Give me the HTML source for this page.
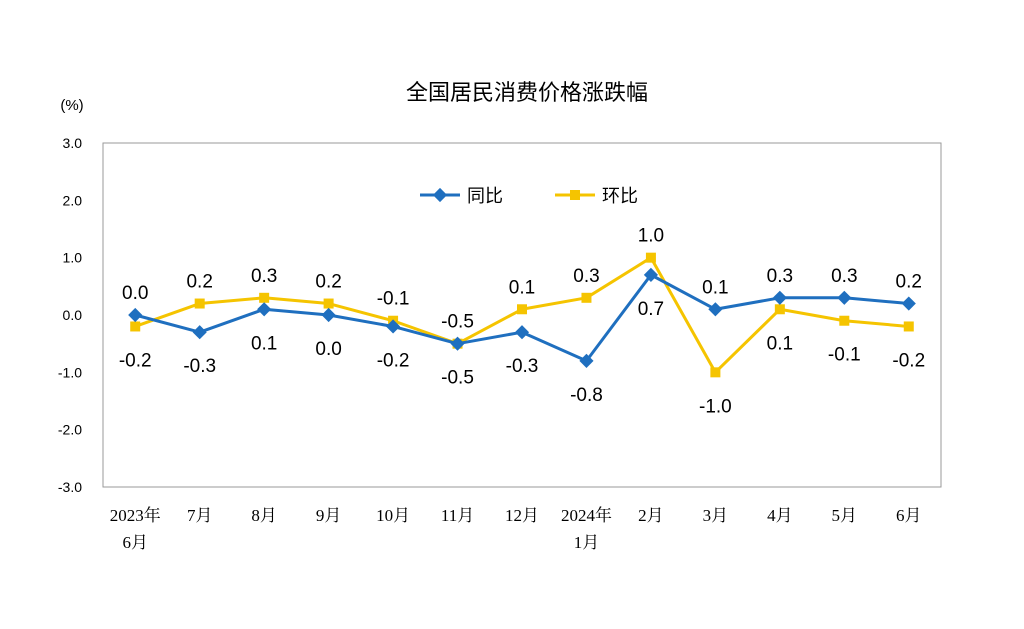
<!DOCTYPE html>
<html><head><meta charset="utf-8"><style>
body{margin:0;background:#fff;}
svg text{font-family:"Liberation Sans","Noto Sans CJK SC",sans-serif;}
</style></head><body>
<svg id="chart" width="1024" height="624" viewBox="0 0 1024 624" xmlns="http://www.w3.org/2000/svg">
<rect width="1024" height="624" fill="#fff"/>
<text x="527" y="100" font-size="22" text-anchor="middle" fill="#000">全国居民消费价格涨跌幅</text>
<text x="72" y="110" font-size="15" text-anchor="middle" fill="#000">(%)</text>
<rect x="103" y="143" width="838" height="344" fill="none" stroke="#999" stroke-width="1"/>
<g id="ticks"></g><g id="xlabels"></g><g id="series"></g><g id="labels"></g>
<g>
<line x1="420" y1="195" x2="460" y2="195" stroke="#1f6fbf" stroke-width="3"/>
<rect x="435" y="190" width="10" height="10" fill="#1f6fbf" transform="rotate(45 440 195)"/>
<text x="467" y="202" font-size="18">同比</text>
<line x1="555" y1="195" x2="595" y2="195" stroke="#f5c400" stroke-width="3"/>
<rect x="570" y="190" width="10" height="10" fill="#f5c400"/>
<text x="602" y="202" font-size="18">环比</text>
</g>
</svg>
<script>
const categories=["2023年|6月","7月","8月","9月","10月","11月","12月","2024年|1月","2月","3月","4月","5月","6月"];
const yoyValues=[0.0,-0.3,0.1,0.0,-0.2,-0.5,-0.3,-0.8,0.7,0.1,0.3,0.3,0.2];
const momValues=[-0.2,0.2,0.3,0.2,-0.1,-0.5,0.1,0.3,1.0,-1.0,0.1,-0.1,-0.2];
const yTicks=[3,2,1,0,-1,-2,-3];
const NS="http://www.w3.org/2000/svg";
const L=103,R=941,T=143,B=487;
const xs=i=>L+(R-L)/categories.length*(i+0.5);
const ys=v=>T+(3-v)/6*(B-T);
function mk(tag,attrs,parent,text){const e=document.createElementNS(NS,tag);for(const k in attrs)e.setAttribute(k,attrs[k]);if(text!==undefined)e.textContent=text;document.getElementById(parent).appendChild(e);return e;}
yTicks.forEach(v=>{const t=mk('text',{x:82,y:ys(v)+5,'font-size':14,'text-anchor':'end'},'ticks',v.toFixed(1));

});
categories.forEach((c,i)=>{c.split('|').forEach((p,j)=>{const t=mk('text',{x:xs(i),y:521+j*27,'font-size':17,'text-anchor':'middle','style':'font-family:"Liberation Serif","Noto Serif CJK SC",serif'},'xlabels',p);

});});
function series(vals,color,name,diamond){
const d=vals.map((v,i)=>(i?'L':'M')+xs(i)+' '+ys(v)).join(' ');
const p=mk('path',{d:d,fill:'none',stroke:color,'stroke-width':3,'stroke-linejoin':'round'},'series');


vals.forEach((v,i)=>{const x=xs(i),y=ys(v);
const m=mk('rect',{x:x-5,y:y-5,width:10,height:10,fill:color,transform:diamond?`rotate(45 ${x} ${y})`:''},'series');

});}
series(momValues,'#f5c400','mom',false);
series(yoyValues,'#1f6fbf','yoy',true);
yoyValues.forEach((b,i)=>{const m=momValues[i];const blueUp=b>m;
[[b,blueUp,'yoy'],[m,!blueUp,'mom']].forEach(([v,up,n])=>{
const t=mk('text',{x:xs(i),y:up?ys(v)-16:ys(v)+40,'font-size':19,'text-anchor':'middle'},'labels',v.toFixed(1));

});});
</script>
</body></html>
